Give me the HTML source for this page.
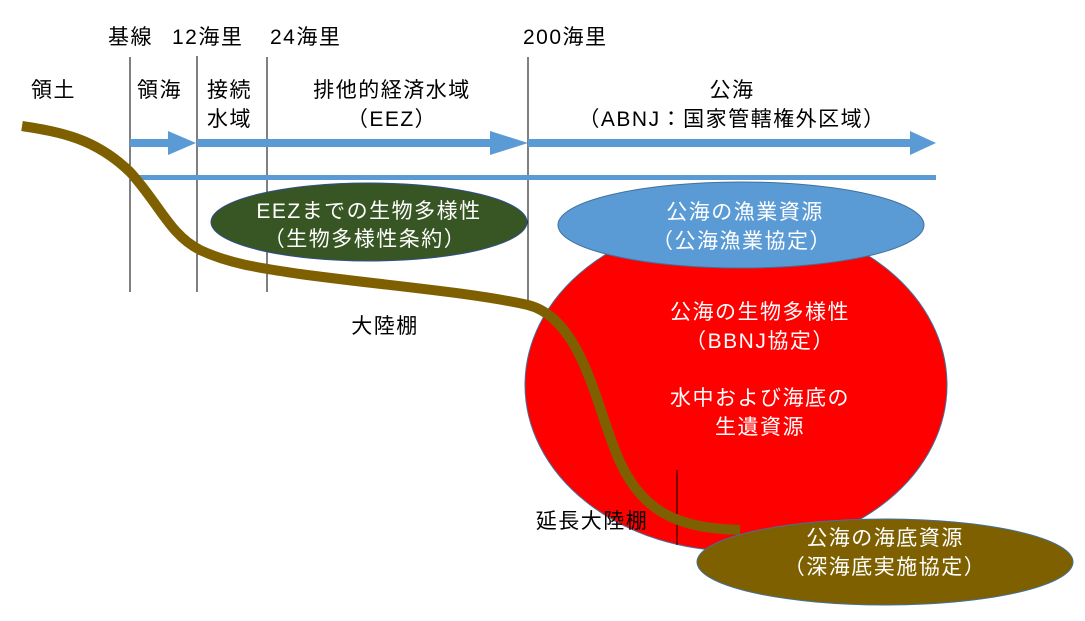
<!DOCTYPE html>
<html><head><meta charset="utf-8"><style>
html,body{margin:0;padding:0;background:#fff;}
text{font-family:"Liberation Sans","Noto Sans CJK JP",sans-serif;font-size:21px;letter-spacing:1.5px;}
</style></head><body>
<svg width="1085" height="616" viewBox="0 0 1085 616" xmlns="http://www.w3.org/2000/svg">
<rect width="1085" height="616" fill="#fff"/>
<g stroke="#000" stroke-width="1">
<line x1="130" y1="57" x2="130" y2="292"/>
<line x1="197" y1="56" x2="197" y2="292"/>
<line x1="267" y1="57" x2="267" y2="292"/>
<line x1="528" y1="57" x2="528" y2="305"/>
</g>
<g fill="#5b9bd5">
<rect x="130" y="139" width="40" height="8"/><polygon points="168,131 196,143 168,155"/>
<rect x="197" y="139" width="295" height="8"/><polygon points="490,131 528,143 490,155"/>
<rect x="528" y="139" width="385" height="8"/><polygon points="910,131 936,143 910,155"/>
<rect x="130" y="175" width="806" height="5"/>
</g>
<ellipse cx="369" cy="222" rx="158" ry="39" fill="#375623" stroke="#2f4f8f" stroke-width="1"/>
<ellipse cx="736" cy="385" rx="211" ry="166" fill="#ff0000" stroke="#41719c" stroke-width="1"/>
<ellipse cx="741" cy="225" rx="183" ry="43" fill="#5b9bd5" stroke="#41719c" stroke-width="1"/>
<line x1="677" y1="470" x2="677" y2="545" stroke="#000" stroke-width="1"/>
<path d="M22,126 C60,132 95,138 130,172 C160,205 170,235 200,250 C230,264 260,268 300,274 C380,285 470,292 528,305 C580,318 595,400 615,450 C640,515 680,528 740,530" fill="none" stroke="#7f6000" stroke-width="10"/>
<ellipse cx="885" cy="562" rx="188" ry="43" fill="#7f6000" stroke="#41719c" stroke-width="1"/>
<g fill="#000">
<text x="108" y="44">基線</text>
<text x="172" y="44">12海里</text>
<text x="270" y="44">24海里</text>
<text x="523" y="44">200海里</text>
<text x="31" y="97">領土</text>
<text x="137" y="97">領海</text>
<text x="207" y="97">接続</text>
<text x="207" y="126">水域</text>
<text x="392" y="97" text-anchor="middle">排他的経済水域</text>
<text x="392" y="126" text-anchor="middle">（EEZ）</text>
<text x="732" y="97" text-anchor="middle">公海</text>
<text x="732" y="126" text-anchor="middle">（ABNJ：国家管轄権外区域）</text>
<text x="385" y="333" text-anchor="middle">大陸棚</text>
<text x="592" y="528" text-anchor="middle">延長大陸棚</text>
</g>
<g fill="#fff" text-anchor="middle">
<text x="369" y="218">EEZまでの生物多様性</text>
<text x="365" y="246">（生物多様性条約）</text>
<text x="745" y="219">公海の漁業資源</text>
<text x="742" y="248">（公海漁業協定）</text>
<text x="760" y="319">公海の生物多様性</text>
<text x="760" y="348">（BBNJ協定）</text>
<text x="760" y="405">水中および海底の</text>
<text x="760" y="434">生遺資源</text>
<text x="885" y="545">公海の海底資源</text>
<text x="885" y="574">（深海底実施協定）</text>
</g>
</svg>
</body></html>
